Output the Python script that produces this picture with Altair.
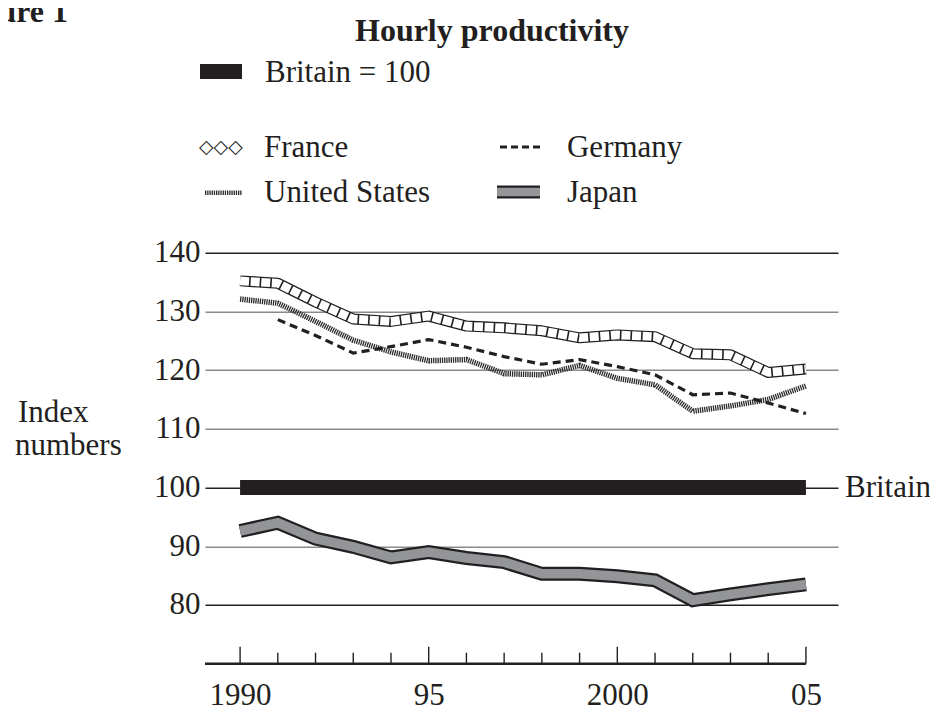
import altair as alt
import pandas as pd

# ---------------- data ----------------
years = list(range(1990, 2006))
britain = [100] * 16
france = [135.2, 134.8, 131.6, 128.7, 128.3, 129.2, 127.5, 127.2,
          126.7, 125.5, 126.0, 125.7, 122.8, 122.6, 119.6, 120.2]
united_states = [132.1, 131.4, 128.3, 125.1, 123.1, 121.6, 121.8, 119.4,
                 119.2, 120.8, 118.6, 117.5, 113.0, 113.9, 115.0, 117.3]
germany = [None, 128.6, 125.9, 122.9, 124.0, 125.2, 123.9, 122.3,
           121.0, 121.8, 120.6, 119.2, 115.8, 116.1, 114.4, 112.6]
japan = [92.6, 94.0, 91.3, 89.9, 88.1, 89.0, 88.0, 87.3,
         85.3, 85.3, 84.9, 84.2, 80.8, 81.8, 82.7, 83.5]

y_ticks = [80, 90, 100, 110, 120, 130, 140]
x_label_years = [1990, 1995, 2000, 2005]

title_text = "Hourly productivity"
figure_text = "Figure 1"
legend_base_text = "Britain = 100"
series_names = ["France", "Germany", "United States", "Japan"]
y_title_lines = ["Index", "numbers"]
end_label = "Britain"

# ---------------- long table ----------------
rows = []
for name, vals in [("Britain", britain), ("France", france),
                   ("United States", united_states), ("Germany", germany),
                   ("Japan", japan)]:
    for yr, v in zip(years, vals):
        if v is not None:
            rows.append({"year": yr, "value": v, "country": name})
df = pd.DataFrame(rows)
one = pd.DataFrame({"k": [0]})
tick_df = pd.DataFrame({"year": years})

# ---------------- style ----------------
FONT = "Liberation Serif"
INK = "#231f20"
GREY = "#939598"
HATCH = "#2a2a2a"
W, H = 633, 411
XMIN, XMAX = 1989.07, 2005.85

xs = alt.Scale(domain=[XMIN, XMAX], nice=False, zero=False)
ys = alt.Scale(domain=[70, 140], nice=False, zero=False)

xaxis = alt.Axis(values=x_label_years,
                 labelExpr="datum.value == 1990 || datum.value == 2000 ? '' + datum.value : (datum.value % 100 < 10 ? '0' : '') + (datum.value % 100)",
                 ticks=False, domain=False, grid=False, title=None,
                 labelFont=FONT, labelFontSize=31, labelColor=INK,
                 labelPadding=17, labelFlush=False, labelOverlap=False)
yaxis = alt.Axis(values=y_ticks, grid=True, ticks=False, domain=False, title=None,
                 gridColor={"condition": {"test": "datum.value == 140 || datum.value == 100 || datum.value == 80",
                                          "value": INK},
                            "value": "#8a8a8a"},
                 gridWidth=1.5,
                 labelFont=FONT, labelFontSize=31, labelColor=INK, labelPadding=5)

X = alt.X("year:Q", scale=xs, axis=xaxis)
Y = alt.Y("value:Q", scale=ys, axis=yaxis)


def series(name):
    return alt.Chart(df).transform_filter(alt.datum.country == name)


def label(text, x, y, size=31, weight="normal", align="left", baseline="alphabetic", font=FONT):
    return alt.Chart(one).mark_text(text=text, font=font, fontSize=size, fontWeight=weight,
                                    align=align, baseline=baseline, color=INK).encode(
        x=alt.value(x), y=alt.value(y))


# ---------------- series ----------------
britain_bar = series("Britain").mark_line(color=INK, strokeWidth=15, strokeCap="butt").encode(x=X, y=Y)
japan_out = series("Japan").mark_line(color=INK, strokeWidth=14, strokeCap="butt", strokeJoin="miter").encode(x=X, y=Y)
japan_in = series("Japan").mark_line(color=GREY, strokeWidth=9.5, strokeCap="butt", strokeJoin="miter").encode(x=X, y=Y)
us_line = series("United States").mark_line(color=HATCH, strokeWidth=5.5, strokeDash=[1.3, 0.9]).encode(x=X, y=Y)
de_line = series("Germany").mark_line(color=INK, strokeWidth=3.2, strokeDash=[8, 5]).encode(x=X, y=Y)
fr_out = series("France").mark_line(color=INK, strokeWidth=11, strokeJoin="round").encode(x=X, y=Y)
fr_in = series("France").mark_line(color="white", strokeWidth=8.6, strokeDash=[9, 1.6], strokeJoin="round").encode(x=X, y=Y)

britain_label = series("Britain").transform_filter(alt.datum.year == 2005).mark_text(
    text=end_label, font=FONT, fontSize=31, align="left", baseline="middle", color=INK).encode(
    x=alt.value(640), y=Y)

# ---------------- x axis line and ticks ----------------
axis_line = alt.Chart(one).mark_rule(color=INK, strokeWidth=2.5).encode(
    x=alt.XDatum(XMIN, type="quantitative", scale=xs, axis=xaxis),
    x2=alt.X2Datum(2005), y=alt.value(H))
major_ticks = alt.Chart(tick_df).transform_filter("datum.year % 5 == 0").mark_rule(
    color=INK, strokeWidth=1.4).encode(x=alt.X("year:Q", scale=xs, axis=xaxis),
                                       y=alt.value(H), y2=alt.value(H - 17))
minor_ticks = alt.Chart(tick_df).transform_filter("datum.year % 5 != 0").mark_rule(
    color=INK, strokeWidth=1.4).encode(x=alt.X("year:Q", scale=xs, axis=xaxis),
                                       y=alt.value(H), y2=alt.value(H - 11))

# ---------------- texts ----------------
title = label(title_text, 287, -211.7, size=32, weight="bold", align="center")
figure = label(figure_text, -251, -230.7, size=32, weight="bold")
ytitle1 = label(y_title_lines[0], -187, 169.3)
ytitle2 = label(y_title_lines[1], -190, 202.3)

# ---------------- legend ----------------
leg_britain_box = alt.Chart(one).mark_rect(color=INK).encode(
    x=alt.value(-5), x2=alt.value(37), y=alt.value(-188.7), y2=alt.value(-173.7))
leg_britain_txt = label(legend_base_text, 60, -171)
leg_fr_sym = label("\u25c7\u25c7\u25c7", -6, -105.7, size=19, baseline="middle", font="DejaVu Sans")
leg_fr_txt = label(series_names[0], 59, -96)
leg_de_sym = alt.Chart(one).mark_rule(color=INK, strokeWidth=3.2, strokeDash=[7, 4]).encode(
    x=alt.value(295), x2=alt.value(335), y=alt.value(-105.7))
leg_de_txt = label(series_names[1], 362, -96)
leg_us_sym = alt.Chart(one).mark_rule(color=HATCH, strokeWidth=4.5, strokeDash=[1.3, 0.9]).encode(
    x=alt.value(0), x2=alt.value(37), y=alt.value(-60))
leg_us_txt = label(series_names[2], 59, -51)
leg_jp_out = alt.Chart(one).mark_rule(color=INK, strokeWidth=13).encode(
    x=alt.value(292), x2=alt.value(335), y=alt.value(-60.7))
leg_jp_in = alt.Chart(one).mark_rule(color=GREY, strokeWidth=8.5).encode(
    x=alt.value(292), x2=alt.value(335), y=alt.value(-60.7))
leg_jp_txt = label(series_names[3], 362, -51)

chart = alt.layer(
    britain_bar, japan_out, japan_in, us_line, de_line, fr_out, fr_in,
    britain_label, axis_line, major_ticks, minor_ticks,
    title, figure, ytitle1, ytitle2,
    leg_britain_box, leg_britain_txt, leg_fr_sym, leg_fr_txt, leg_de_sym, leg_de_txt,
    leg_us_sym, leg_us_txt, leg_jp_out, leg_jp_in, leg_jp_txt,
).properties(
    width=W, height=H,
    padding={"left": 197, "top": 244.7, "right": 92, "bottom": 50},
    autosize=alt.AutoSizeParams(type="none"),
    background="white",
).configure_view(stroke=None)

chart.save("out.html", embed_options={"renderer": "svg", "actions": False})
